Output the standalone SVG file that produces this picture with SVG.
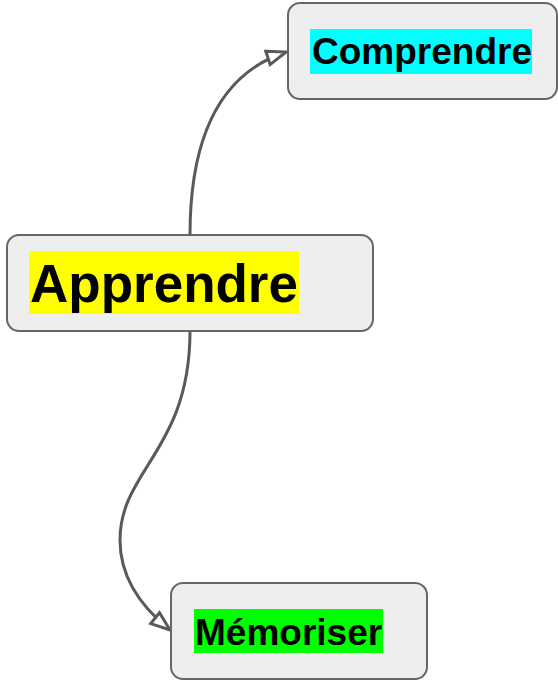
<svg xmlns="http://www.w3.org/2000/svg" width="558" height="681" viewBox="0 0 558 681">
<style>
.box{fill:#eeeeee;stroke:#666666;stroke-width:2}
.lbl{font-family:"Liberation Sans",Arial,sans-serif;font-weight:bold;fill:#000}
.edge{fill:none;stroke:#595959;stroke-width:3}
</style>
<defs>
<marker id="arr" markerUnits="userSpaceOnUse" markerWidth="26" markerHeight="20" refX="22" refY="10" orient="auto" viewBox="0 0 26 20">
<path d="M3,3 L22,10 L3,17 Z" fill="#ffffff" stroke="#595959" stroke-width="3" stroke-linejoin="miter"/>
</marker>
</defs>
<g id="connectors">
<path class="edge" d="M190,235 C190,130 225,72 286,52" marker-end="url(#arr)"/>
<path class="edge" d="M190,331 C190,450 120,470 120,540 C120,580 145,610 170,630" marker-end="url(#arr)"/>
</g>
<g id="node-comprendre">
<rect class="box" x="288" y="3" width="269" height="96" rx="12"/>
<rect x="310" y="29" width="222" height="45" fill="#00ffff"/>
<text class="lbl" x="312" y="64" font-size="37">Comprendre</text>
</g>
<g id="node-apprendre">
<rect class="box" x="7" y="235" width="366" height="96" rx="12"/>
<rect x="29" y="251" width="270" height="63" fill="#ffff00"/>
<text class="lbl" x="30" y="302" font-size="53">Apprendre</text>
</g>
<g id="node-memoriser">
<rect class="box" x="171" y="583" width="256" height="96" rx="12"/>
<rect x="194" y="609" width="189" height="44" fill="#00ff00"/>
<text class="lbl" x="195" y="645" font-size="37">Mémoriser</text>
</g>
</svg>
